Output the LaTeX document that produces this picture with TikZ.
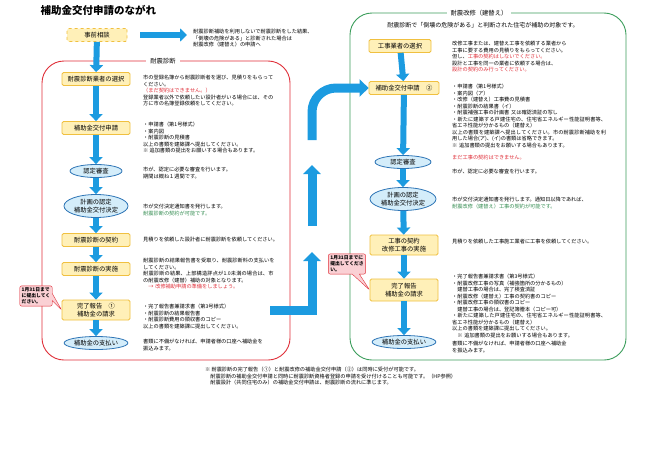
\documentclass[tikz,border=0pt]{standalone}
\usepackage{fontspec}
\setmainfont{Noto Sans CJK JP}
\XeTeXlinebreaklocale "ja"
\XeTeXlinebreakskip=0pt plus 1pt
\usetikzlibrary{arrows.meta,shapes.geometric,shapes.callouts}
\definecolor{boxfill}{HTML}{FFF0B8}
\definecolor{boxline}{HTML}{F0C040}
\definecolor{ellfill}{HTML}{D4EDFA}
\definecolor{ellline}{HTML}{2E75B6}
\definecolor{arrblue}{HTML}{1C9BE0}
\definecolor{redline}{HTML}{E0303A}
\definecolor{greenline}{HTML}{3C9E5C}
\definecolor{calfill}{HTML}{FAD0D4}
\newcommand{\rd}[1]{\textcolor{redline}{#1}}
\newcommand{\gr}[1]{\textcolor{greenline!90!black}{#1}}
\tikzset{
 x=1pt,y=-1pt,
 stepbox/.style={draw=boxline,fill=boxfill,line width=0.8pt,rounded corners=1.5pt,font=\fontsize{6.3}{8}\selectfont,minimum height=13pt,align=center,inner sep=2pt},
 ellbox/.style={ellipse,draw=ellline,fill=ellfill,line width=0.8pt,font=\fontsize{6.3}{8}\selectfont,align=center,inner sep=0.5pt},
 note/.style={anchor=north west,inner sep=0pt,align=left,font=\fontsize{5.2}{6.5}\selectfont},
 darr/.style={draw=arrblue,line width=6pt,-{Triangle[width=13pt,length=7pt]}},
 bigarr/.style={draw=arrblue,line width=9pt,-{Triangle[width=17pt,length=9pt]}},
 callout/.style={rectangle callout,draw=redline,fill=calfill,rounded corners=2pt,font=\fontsize{4.8}{6}\selectfont\bfseries,align=left,inner sep=2pt},
}
\begin{document}
\begin{tikzpicture}
\useasboundingbox[fill=white] (0,0) rectangle (650,463);
\node[anchor=west,font=\fontsize{10.5}{12}\selectfont\bfseries] (title) at (37,10) {補助金交付申請のながれ};
% frames
\draw[redline,line width=0.9pt,rounded corners=22pt] (42,61) rectangle (290,360);
\node[fill=white,font=\fontsize{6.3}{8}\selectfont,inner sep=4pt] (lframe) at (163,61) {耐震診断};
\draw[greenline,line width=0.9pt,rounded corners=22pt] (350,13) rectangle (626,360);
\node[fill=white,font=\fontsize{6.3}{8}\selectfont,inner sep=4pt] (rframe) at (479,13) {耐震改修（建替え）};
\node[font=\fontsize{6}{7.5}\selectfont] (rsub) at (483,25) {耐震診断で「倒壊の危険がある」と判断された住宅が補助の対象です。};
% left column
\node[stepbox,dashed,minimum width=60pt] (pre) at (97,35) {事前相談};
\node[stepbox,minimum width=68pt] (l1) at (96,79) {耐震診断業者の選択};
\node[stepbox,minimum width=68pt] (l2) at (96,128) {補助金交付申請};
\node[ellbox,minimum width=52pt,minimum height=13pt] (l3) at (96,171) {認定審査};
\node[ellbox,minimum width=64pt,minimum height=23pt] (l4) at (96,206) {計画の認定\\補助金交付決定};
\node[stepbox,minimum width=68pt] (l5) at (96,240) {耐震診断の契約};
\node[stepbox,minimum width=68pt] (l6) at (96,269) {耐震診断の実施};
\node[stepbox,minimum width=68pt,minimum height=20pt] (l7) at (96,310) {完了報告　①\\補助金の請求};
\node[ellbox,minimum width=56pt,minimum height=13pt] (l8) at (96,343) {補助金の支払い};
\draw[darr] (pre) -- (l1);
\draw[darr] (l1) -- (l2);
\draw[darr] (l2) -- (l3);
\draw[darr] (l3) -- (l4);
\draw[darr] (l4) -- (l5);
\draw[darr] (l5) -- (l6);
\draw[darr] (l6) -- (l7);
\draw[darr] (l7) -- (l8);
\coordinate (pe) at (140,35);
\coordinate (pf) at (187,35);
\draw[darr] (pe) -- (pf);
\node[note] (pt) at (193,29) {耐震診断補助を利用しないで耐震診断をした結果、\\「倒壊の危険がある」と診断された場合は\\耐震改修（建替え）の申請へ};
\node[note,text width=130pt] (t1) at (143,75) {市の登録名簿から耐震診断者を選び、見積りをもらってください。\\\rd{（まだ契約はできません。）}\\登録業者以外で依頼したい設計者がいる場合には、その方に市の名簿登録依頼をしてください。};
\node[note] (t2) at (143,122) {・申請書（第1号様式）\\・案内図\\・耐震診断の見積書\\以上の書類を建築課へ提出してください。\\※ 追加書類の提出をお願いする場合もあります。};
\node[note] (t3) at (143,167) {市が、認定に必要な審査を行います。\\期間は概ね１週間です。};
\node[note] (t4) at (143,204) {市が交付決定通知書を発行します。\\\gr{耐震診断の契約が可能です。}};
\node[note] (t5) at (143,237) {見積りを依頼した設計者に耐震診断を依頼してください。};
\node[note,text width=132pt] (t6) at (143,258) {耐震診断の結果報告書を受取り、耐震診断料の支払いをしてください。\\耐震診断の結果、上部構造評点が1.0未満の場合は、市の耐震改修（建替）補助の対象となります。\\\rd{　→ 改修補助申請の準備をしましょう。}};
\node[note] (t7) at (143,304) {・完了報告書兼請求書（第3号様式）\\・耐震診断の結果報告書\\・耐震診断費用の領収書のコピー\\以上の書類を建築課に提出してください。};
\node[note] (t8) at (143,339) {書類に不備がなければ、申請者様の口座へ補助金を\\振込みます。};
\node[callout,callout absolute pointer={(l7.west)}] (c1) at (36,296) {1月31日まで\\に提出してく\\ださい。};
% right column
\node[stepbox,minimum width=62pt] (r1) at (400,46) {工事業者の選択};
\node[stepbox,minimum width=70pt] (r2) at (404,88) {補助金交付申請　②};
\node[ellbox,minimum width=56pt,minimum height=13pt] (r3) at (403,162) {認定審査};
\node[ellbox,minimum width=66pt,minimum height=23pt] (r4) at (403,199) {計画の認定\\補助金交付決定};
\node[stepbox,minimum width=68pt,minimum height=20pt] (r5) at (404,245) {工事の契約\\改修工事の実施};
\node[stepbox,minimum width=68pt,minimum height=22pt] (r6) at (404,290) {完了報告\\補助金の請求};
\node[ellbox,minimum width=56pt,minimum height=13pt] (r7) at (404,342) {補助金の支払い};
\draw[darr] (r1) -- (r2);
\draw[darr] (r2) -- (r3);
\draw[darr] (r3) -- (r4);
\draw[darr] (r4) -- (r5);
\draw[darr] (r5) -- (r6);
\draw[darr] (r6) -- (r7);
\node[note] (s1) at (452,41) {改修工事または、建替え工事を依頼する業者から\\工事に要する費用の見積りをもらってください。\\但し、\rd{工事の契約はしないでください。}\\設計と工事を同一の業者に依頼する場合は、\\\rd{設計の契約のみ行ってください。}};
\node[note,text width=155pt] (s2) at (452,84) {・申請書（第1号様式）\\・案内図（ア）\\・改修（建替え）工事費の見積書\\・耐震診断の結果書（イ）\\・耐震補強工事の計画書 又は確認済証の写し\\・新たに建築する戸建住宅の、住宅省エネルギー性能証明書等、省エネ性能が分かるもの（建替え）\\以上の書類を建築課へ提出してください。市の耐震診断補助を利用した場合(ア)、(イ)の書類は省略できます。\\※ 追加書類の提出をお願いする場合もあります。};
\node[note] (s2b) at (452,155) {\rd{まだ工事の契約はできません。}};
\node[note] (s3) at (452,169) {市が、認定に必要な審査を行います。};
\node[note] (s4) at (452,197) {市が交付決定通知書を発行します。通知日以降であれば、\\\gr{耐震改修（建替え）工事の契約が可能です。}};
\node[note] (s5) at (452,239) {見積りを依頼した工事施工業者に工事を依頼してください。};
\node[note,text width=155pt] (s6) at (452,274) {・完了報告書兼請求書（第3号様式）\\・耐震改修工事の写真（補強箇所の分かるもの）\\　建替工事の場合は、完了検査済証\\・耐震改修（建替え）工事の契約書のコピー\\・耐震改修工事の領収書のコピー\\　建替工事の場合は、登記簿謄本（コピー可）\\・新たに建築した戸建住宅の、住宅省エネルギー性能証明書等、省エネ性能が分かるもの（建替え）\\以上の書類を建築課に提出してください。\\　※ 追加書類の提出をお願いする場合もあります。};
\node[note] (s7) at (452,341) {書類に不備がなければ、申請者様の口座へ補助金\\を振込みます。};
\node[callout,callout absolute pointer={(r6.west)}] (c2) at (347,264) {1月31日までに\\提出してくださ\\い。};
% connecting big arrow
\coordinate (b0) at (270,310);
\coordinate (b1) at (312,310);
\coordinate (b2) at (312,252);
\coordinate (b3) at (312,226);
\coordinate (b4) at (312,165);
\coordinate (b5) at (312,140);
\draw[bigarr] (b0) -- (b1) -- (b2);
\draw[bigarr] (b5) -- (312,112) arc[start angle=180,end angle=270,radius=24] -- (r2.west);
\draw[bigarr] (b3) -- (b4);
% footnote
\node[note] (fn) at (205,367) {※ 耐震診断の完了報告（①）と耐震改修の補助金交付申請（②）は同時に受付が可能です。\\　耐震診断の補助金交付申請と同時に耐震診断資格者登録の申請を受け付けることも可能です。（HP参照）\\　耐震設計（共同住宅のみ）の補助金交付申請は、耐震診断の流れに準じます。};
\end{tikzpicture}
\end{document}
